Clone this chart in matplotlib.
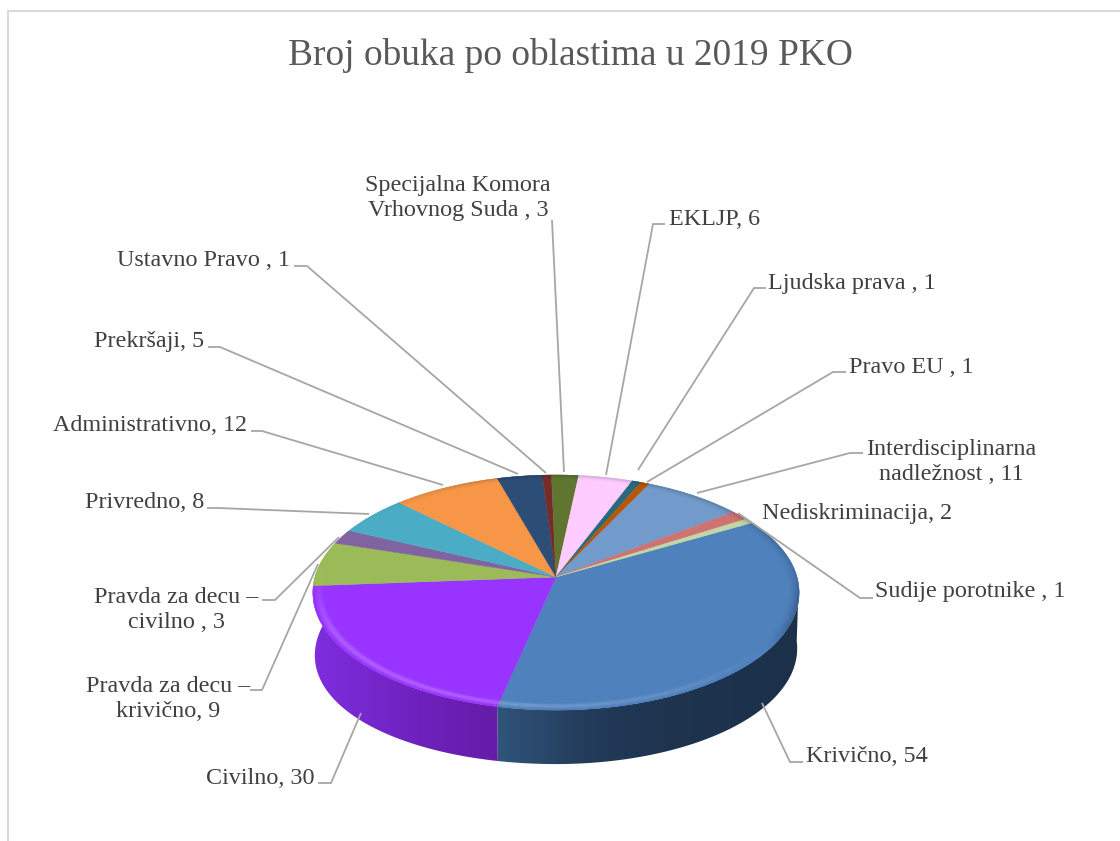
import numpy as np
import matplotlib
matplotlib.use("Agg")
import matplotlib.pyplot as plt
from matplotlib.collections import PolyCollection
from matplotlib.colors import to_rgb, LinearSegmentedColormap
from matplotlib.patches import Polygon

categories = ["Krivično", "Civilno", "Pravda za decu –\nkrivično", "Pravda za decu –\ncivilno ",
              "Privredno", "Administrativno", "Prekršaji", "Ustavno Pravo ",
              "Specijalna Komora\nVrhovnog Suda ", "EKLJP", "Ljudska prava ", "Pravo EU ",
              "Interdisciplinarna\nnadležnost ", "Nediskriminacija", "Sudije porotnike "]
values = [54, 30, 9, 3, 8, 12, 5, 1, 3, 6, 1, 1, 11, 2, 1]
colors = ["#4F81BD", "#9933FF", "#9BBB59", "#8064A2", "#4BACC6", "#F79646", "#2C4D75", "#772C2A",
          "#5F7530", "#FFCCFF", "#276A7C", "#B65708", "#729ACA", "#CD7371", "#C2D6A5"]
title = "Broj obuka po oblastima u 2019 PKO"

# layout (pixel space of the figure)
label_pos = [(867, 756), (260, 778), (168, 699), (176, 610), (145, 502), (150, 425), (149, 341),
             (203, 260), (458, 198), (715, 219), (852, 283), (911, 367), (951, 462), (857, 514), (970, 592)]
leaders = [[(762, 703), (790, 762), (803, 762)],
           [(361, 713), (331, 783), (318, 783)],
           [(318, 564), (262, 690), (250, 690)],
           [(339, 537), (275, 600), (262, 600)],
           [(369, 514), (218, 508), (207, 508)],
           [(443, 485), (262, 431), (251, 431)],
           [(518, 474), (220, 347), (208, 347)],
           [(546, 473), (307, 266), (294, 266)],
           [(564, 472), (552, 220)],
           [(606, 475), (653, 224), (665, 224)],
           [(638, 470), (754, 288), (766, 288)],
           [(647, 482), (833, 372), (846, 372)],
           [(697, 493), (850, 453), (863, 453)],
           None,
           [(738, 513), (860, 598), (873, 598)]]
CX, CY, RX, RY, K = 556.0, 577.0, 241.0, 115.5, 0.132
DEPTH = 54.0
BULGE_LEFT, BULGE_RIGHT = 9.0, 2.0
START = 30.0
WALL_LEFT, WALL_RIGHT = -188.0, -4.0


def project(theta_deg, r=1.0, dy=0.0, sx=1.0):
    t = np.radians(theta_deg)
    u, v = r * np.cos(t), r * np.sin(t)
    w = 1 + K * v
    return CX + sx * RX * u / w, CY - RY * v / w + dy


def wall_drop(theta_deg):
    c = np.cos(np.radians(theta_deg))
    return DEPTH + np.where(c < 0, BULGE_LEFT, BULGE_RIGHT) * c ** 2


def mix(c1, c2, f):
    c1, c2 = np.array(to_rgb(c1)), np.array(to_rgb(c2))
    return tuple(c1 + (c2 - c1) * np.clip(f, 0, 1))


fig = plt.figure(figsize=(11.2, 8.41), dpi=100, facecolor="white")
ax = fig.add_axes([0, 0, 1, 1])
ax.axis("off")
plt.rcParams["font.family"] = ["Liberation Serif", "DejaVu Serif"]

# chart frame (top and left only reach the image)
ax.plot([8, 8, 1120], [841, 11, 11], color="#D9D9D9", lw=1.5, zorder=1)

# slice angles run clockwise from the start angle
sweep = np.array(values) / np.sum(values) * 360.0
ends = START - np.cumsum(sweep)
starts = ends + sweep

# side wall of the two front slices, each with a horizontal gradient
wall_cmaps = [LinearSegmentedColormap.from_list("w0", [(0, "#30547B"), (0.3, "#233C5A"), (0.55, "#1E344F"), (1, "#1C304A")]),
              LinearSegmentedColormap.from_list("w1", [(0, "#7F2DDE"), (0.55, "#6E22BE"), (1, "#651CA6")])]
ramp = np.linspace(0, 1, 256)[None, :]
for i, cmap in enumerate(wall_cmaps):
    lo = WALL_LEFT if i == 1 else ends[i]
    hi = min(starts[i], WALL_RIGHT)
    th = np.linspace(lo, hi, 200)
    xt, yt = project(th)
    xb, yb = project(th, dy=wall_drop(th), sx=0.992)
    path = Polygon(np.c_[np.r_[xt, xb[::-1]], np.r_[yt, yb[::-1]]], transform=ax.transData,
                   facecolor="none", edgecolor="none")
    ax.add_patch(path)
    im = ax.imshow(ramp, cmap=cmap, aspect="auto", interpolation="bilinear", zorder=2,
                   extent=(np.r_[xt, xb].min(), np.r_[xt, xb].max(), 841, 0))
    im.set_clip_path(path)

# top face
for a, b, col in zip(starts, ends, colors):
    th = np.linspace(a, b, 160)
    x, y = project(th)
    ax.fill(np.r_[CX, x], np.r_[CY, y], facecolor=col, edgecolor=col, lw=0.3, zorder=3)

# bevel on the rim, lit from the lower left and dark towards the right
polys, fcs = [], []
bands = np.linspace(0.95, 1.0, 8)
for a, b, col in zip(starts, ends, colors):
    th = np.arange(b, a + 0.75, 0.75)
    th[-1] = a
    for t0, t1 in zip(th[:-1], th[1:]):
        mid = (t0 + t1) / 2
        front = np.clip((-np.sin(np.radians(mid)) + 0.12) / 0.55, 0, 1)
        light = np.cos(np.radians(mid - 235))
        for r0, r1 in zip(bands[:-1], bands[1:]):
            t = ((r0 + r1) / 2 - bands[0]) / (bands[-1] - bands[0])
            p = np.sin(np.pi * t) ** 2 * front
            if light > 0:
                fc = mix(col, "#FFFFFF", 0.24 * p * light)
            else:
                fc = mix(col, "#0E2036", 0.85 * t ** 2 * max(front, 0.25) * min(1, -light * 1.8))
            xa, ya = project(t0, r0)
            xb, yb = project(t1, r0)
            xc, yc = project(t1, r1)
            xd, yd = project(t0, r1)
            polys.append([(xa, ya), (xb, yb), (xc, yc), (xd, yd)])
            fcs.append(fc)
ax.add_collection(PolyCollection(polys, facecolors=fcs, edgecolors=fcs, linewidths=0.2, zorder=4))

# leader lines
for path in leaders:
    if path is None:
        continue
    xs, ys = zip(*path)
    ax.plot(xs, ys, color="#A6A6A6", lw=1.3, zorder=5, solid_capstyle="butt")

# labels
for cat, val, (x, y) in zip(categories, values, label_pos):
    ax.text(x, y, f"{cat}, {val}", ha="center", va="center", fontsize=17.4,
            family="Liberation Serif", color="#404040", linespacing=1.27, zorder=6)

ax.text(570, 55, title, ha="center", va="center", fontsize=26.9,
        family="Liberation Serif", color="#595959", zorder=6)

ax.set_xlim(0, 1120)
ax.set_ylim(841, 0)
fig.savefig("out.png", dpi=100, facecolor="white")
